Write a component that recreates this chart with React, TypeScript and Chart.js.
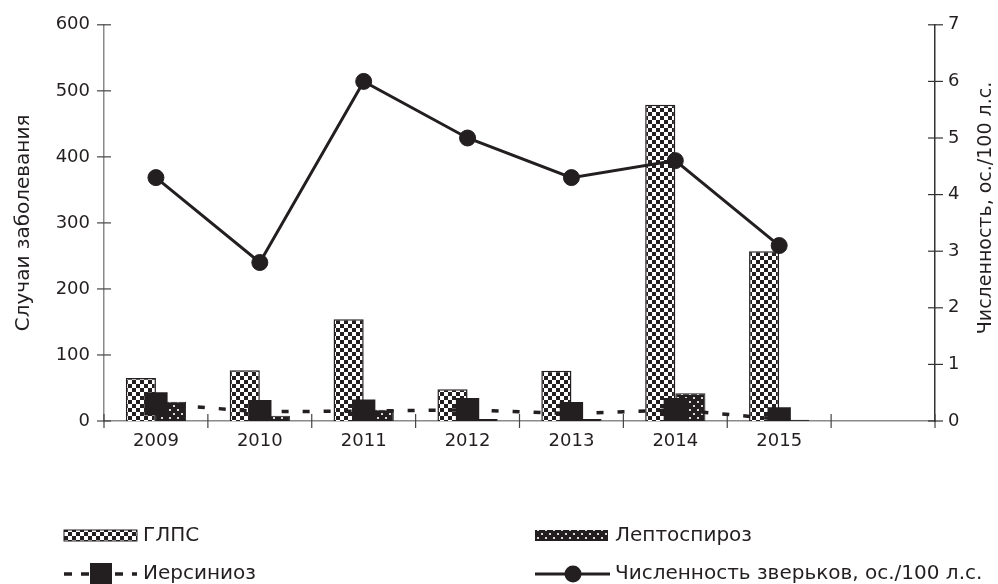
import React, { useEffect, useRef } from 'react';
import { Chart, registerables } from 'chart.js';

Chart.register(...registerables);

const years = ['2009', '2010', '2011', '2012', '2013', '2014', '2015', ''];
const glps = [65, 77, 154, 48, 76, 479, 257, null];
const lepto = [29, 8, 17, 3, 3, 42, 2, null];
const yersin = [26, 14, 15, 17, 11, 17, 3, null];
const animals = [4.3, 2.8, 6.0, 5.0, 4.3, 4.6, 3.1, null];
const seriesNames = ['ГЛПС', 'Лептоспироз', 'Иерсиниоз', 'Численность зверьков, ос./100 л.с.'];
const leftTitle = 'Случаи заболевания';
const rightTitle = 'Численность, ос./100 л.с.';

const INK = '#231f20';
const FONT = '"DejaVu Sans", "Liberation Sans", Arial, sans-serif';

function makeChecker(): CanvasPattern | string {
  const c = document.createElement('canvas');
  c.width = 8; c.height = 8;
  const g = c.getContext('2d');
  if (!g) return '#888';
  g.fillStyle = '#fff';
  g.fillRect(0, 0, 8, 8);
  g.fillStyle = INK;
  g.fillRect(0, 0, 4, 4);
  g.fillRect(4, 4, 4, 4);
  return g.createPattern(c, 'repeat') || '#888';
}

function makeDots(): CanvasPattern | string {
  const c = document.createElement('canvas');
  c.width = 8; c.height = 8;
  const g = c.getContext('2d');
  if (!g) return '#333';
  g.fillStyle = INK;
  g.fillRect(0, 0, 8, 8);
  g.fillStyle = '#d8d8d8';
  g.fillRect(1, 1, 2, 2);
  g.fillRect(5, 5, 2, 2);
  return g.createPattern(c, 'repeat') || '#333';
}

export default function App() {
  const ref = useRef<HTMLCanvasElement | null>(null);

  useEffect(() => {
    const canvas = ref.current;
    if (!canvas) return;
    const checker = makeChecker();
    const dots = makeDots();

    const decor = {
      id: 'decor',
      beforeDatasetsDraw(chart: any) {
        const { ctx, chartArea, scales } = chart;
        const x = scales.x, yl = scales.y, yr = scales.y1;
        ctx.save();
        ctx.lineWidth = 1.2;
        ctx.strokeStyle = '#444';
        const step = x.getPixelForValue(1) - x.getPixelForValue(0);
        for (let i = 0; i <= years.length; i++) {
          const px = x.getPixelForValue(0) - step / 2 + i * step;
          ctx.beginPath();
          ctx.moveTo(px, chartArea.bottom - 7);
          ctx.lineTo(px, chartArea.bottom + 7);
          ctx.stroke();
        }
        yl.ticks.forEach((t: any) => {
          const py = yl.getPixelForValue(t.value);
          ctx.beginPath();
          ctx.moveTo(chartArea.left - 7, py);
          ctx.lineTo(chartArea.left + 7, py);
          ctx.stroke();
        });
        ctx.strokeStyle = '#333';
        yr.ticks.forEach((t: any) => {
          const py = yr.getPixelForValue(t.value);
          ctx.beginPath();
          ctx.moveTo(chartArea.right - 7, py);
          ctx.lineTo(chartArea.right + 8, py);
          ctx.stroke();
        });
        ctx.restore();
      },
      afterDraw(chart: any) {
        const { ctx, chartArea } = chart;
        ctx.save();
        ctx.fillStyle = INK;
        ctx.textAlign = 'center';
        ctx.textBaseline = 'middle';
        ctx.font = `20px ${FONT}`;
        ctx.save();
        ctx.translate(24, (chartArea.top + chartArea.bottom) / 2);
        ctx.rotate(-Math.PI / 2);
        ctx.fillText(leftTitle, 0, 0);
        ctx.restore();
        ctx.font = `19px ${FONT}`;
        ctx.save();
        ctx.translate(986, 208);
        ctx.rotate(-Math.PI / 2);
        ctx.fillText(rightTitle, 0, 0);
        ctx.restore();

        ctx.font = `20px ${FONT}`;
        ctx.textAlign = 'left';
        const r1 = 536, r2 = 574;
        ctx.fillStyle = checker as any;
        ctx.fillRect(64, r1 - 6, 73, 11);
        ctx.strokeStyle = INK;
        ctx.lineWidth = 1;
        ctx.strokeRect(64, r1 - 6, 73, 11);
        ctx.fillStyle = INK;
        ctx.fillText(seriesNames[0], 143, r1);
        ctx.fillStyle = dots as any;
        ctx.fillRect(535, r1 - 6, 73, 11);
        ctx.fillStyle = INK;
        ctx.fillText(seriesNames[1], 615, r1);
        ctx.strokeStyle = INK;
        ctx.lineWidth = 3.5;
        ctx.setLineDash([8, 9]);
        ctx.beginPath();
        ctx.moveTo(64, r2);
        ctx.lineTo(137, r2);
        ctx.stroke();
        ctx.setLineDash([]);
        ctx.fillRect(101 - 11, r2 - 11, 22, 22);
        ctx.fillText(seriesNames[2], 143, r2);
        ctx.lineWidth = 3;
        ctx.beginPath();
        ctx.moveTo(535, r2);
        ctx.lineTo(610, r2);
        ctx.stroke();
        ctx.beginPath();
        ctx.arc(573, r2, 8.5, 0, Math.PI * 2);
        ctx.fill();
        ctx.fillText(seriesNames[3], 615, r2);
        ctx.restore();
      },
    };

    const tickFont = { family: FONT, size: 18 };

    const chart = new Chart(canvas, {
      type: 'bar',
      data: {
        labels: years,
        datasets: [
          {
            type: 'line',
            label: seriesNames[3],
            data: animals,
            yAxisID: 'y1',
            borderColor: INK,
            backgroundColor: INK,
            borderWidth: 3,
            pointRadius: 8,
            pointBorderWidth: 1,
            pointBackgroundColor: INK,
            pointBorderColor: INK,
            tension: 0,
            order: 1,
          } as any,
          {
            type: 'line',
            label: seriesNames[2],
            data: yersin,
            yAxisID: 'y',
            borderColor: INK,
            backgroundColor: INK,
            borderWidth: 3.5,
            borderDash: [7, 14],
            pointStyle: 'rect',
            pointRadius: 16.5,
            pointBorderWidth: 0,
            pointBackgroundColor: INK,
            tension: 0,
            order: 2,
          } as any,
          {
            type: 'bar',
            label: seriesNames[0],
            data: glps,
            yAxisID: 'y',
            backgroundColor: checker as any,
            borderColor: INK,
            borderWidth: 1.5,
            categoryPercentage: 0.58,
            barPercentage: 1,
            order: 3,
          } as any,
          {
            type: 'bar',
            label: seriesNames[1],
            data: lepto,
            yAxisID: 'y',
            backgroundColor: dots as any,
            borderColor: INK,
            borderWidth: 1,
            categoryPercentage: 0.58,
            barPercentage: 1,
            order: 3,
          } as any,
        ],
      },
      options: {
        responsive: false,
        animation: false,
        layout: { padding: { top: 24, left: 0, right: 0, bottom: 0 } },
        plugins: { legend: { display: false }, tooltip: { enabled: false } },
        scales: {
          x: {
            offset: true,
            grid: { display: false, offset: true, drawTicks: false },
            border: { display: true, color: '#8a8a8a', width: 1.5 },
            ticks: { color: INK, font: tickFont, padding: 10, maxRotation: 0 },
            afterFit: (s: any) => { s.height = 163; },
          },
          y: {
            position: 'left',
            min: 0,
            max: 600,
            grid: { display: false, drawTicks: false },
            border: { display: true, color: '#8a8a8a', width: 1.5 },
            ticks: { stepSize: 100, color: INK, font: tickFont, padding: 14 },
            afterFit: (s: any) => { s.width = 104; },
          },
          y1: {
            position: 'right',
            min: 0,
            max: 7,
            grid: { display: false, drawTicks: false },
            border: { display: true, color: '#333', width: 1.5 },
            ticks: { stepSize: 1, color: INK, font: tickFont, padding: 13 },
            afterFit: (s: any) => { s.width = 63; },
          },
        },
      },
      plugins: [decor],
    });
    return () => chart.destroy();
  }, []);

  return (
    <div style={{ position: 'absolute', left: 0, top: 0, width: 998, height: 584, background: '#fff' }}>
      <canvas ref={ref} width={998} height={584} style={{ display: 'block' }} />
    </div>
  );
}
